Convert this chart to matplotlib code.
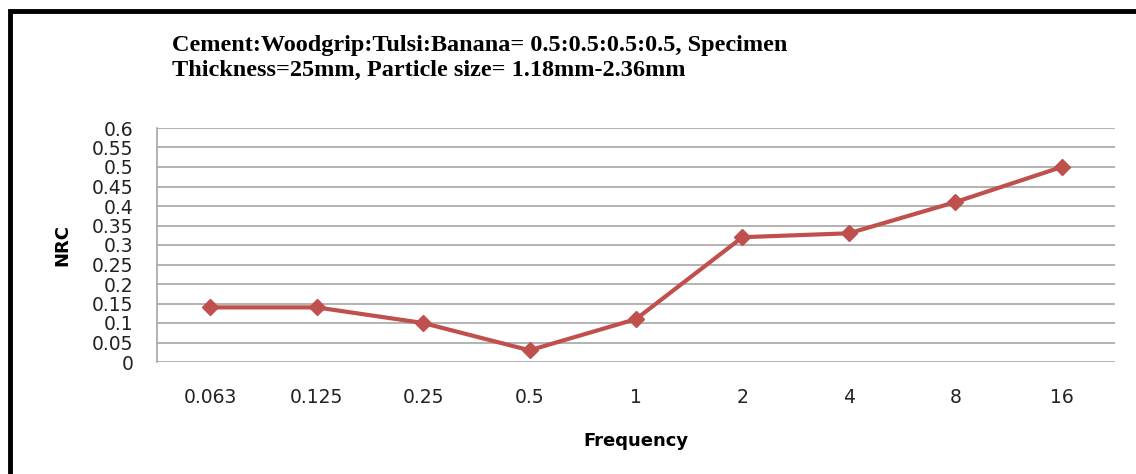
import matplotlib.pyplot as plt
from matplotlib.patches import Rectangle

# data
frequency = ["0.063", "0.125", "0.25", "0.5", "1", "2", "4", "8", "16"]
nrc = [0.14, 0.14, 0.10, 0.03, 0.11, 0.32, 0.33, 0.41, 0.50]
y_ticks = [0, 0.05, 0.1, 0.15, 0.2, 0.25, 0.3, 0.35, 0.4, 0.45, 0.5, 0.55, 0.6]
y_ticklabels = ["0", "0.05", "0.1", "0.15", "0.2", "0.25", "0.3", "0.35",
                "0.4", "0.45", "0.5", "0.55", "0.6"]
title_lines = ["Cement:Woodgrip:Tulsi:Banana= 0.5:0.5:0.5:0.5, Specimen",
               "Thickness=25mm, Particle size= 1.18mm-2.36mm"]

W, H = 1136, 474
fig = plt.figure(figsize=(W / 100, H / 100), dpi=100)

# plot area in pixel coords: x 157..1115, y 128..362
ax = fig.add_axes([157 / W, 1 - 362 / H, (1115 - 157) / W, (362 - 128) / H])

x = list(range(len(frequency)))
ax.plot(x, nrc, color="#C0504D", linewidth=3, marker="D", markersize=8,
        markeredgecolor="#C0504D", zorder=3)

ax.set_xlim(-0.5, len(frequency) - 0.5)
ax.set_ylim(0, 0.6)
ax.set_yticks(y_ticks)
ax.set_yticklabels(y_ticklabels)
ax.set_xticks(x)
ax.set_xticklabels(frequency)
ax.yaxis.grid(True, color="#a6a6a6", linewidth=1.2)
ax.set_axisbelow(True)
ax.tick_params(axis="both", length=0, labelsize=13.5, colors="#222222")
ax.tick_params(axis="y", pad=17)
ax.tick_params(axis="x", pad=19)
for s in ["top", "right", "bottom"]:
    ax.spines[s].set_visible(False)
ax.spines["left"].set_color("#a6a6a6")
ax.spines["left"].set_linewidth(1.2)

ax.set_xlabel("Frequency", fontsize=13, fontweight="bold", labelpad=18)
ax.set_ylabel("NRC", fontsize=13, fontweight="bold", labelpad=15)

# chart title, bold serif, left aligned, two lines
for k, line in enumerate(title_lines):
    fig.text(172 / W, 1 - (51 + 25 * k) / H, line,
             family="Liberation Serif", fontweight="bold", fontsize=17.5,
             ha="left", va="baseline")

# outer black frame (only left and top visible in the crop)
fig.add_artist(Rectangle((9.5 / W, -0.1), 1.2, 1 - 10.5 / H + 0.1,
                         transform=fig.transFigure, fill=False,
                         edgecolor="black", linewidth=3.5))

fig.savefig("out.png", dpi=100)
